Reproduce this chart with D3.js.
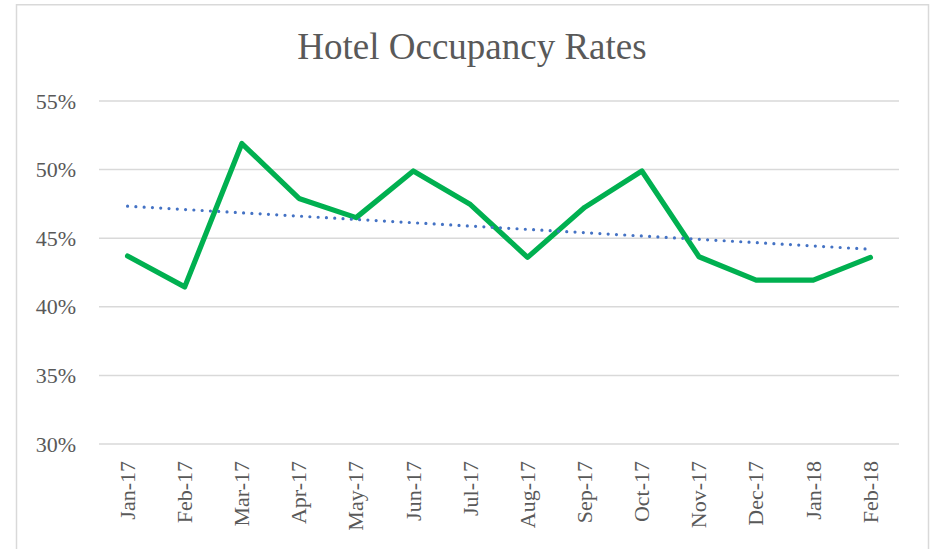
<!DOCTYPE html>
<html>
<head>
<meta charset="utf-8">
<script src="https://cdn.jsdelivr.net/npm/d3@7"></script>
<style>
  html, body { margin: 0; padding: 0; background: #fff; }
  svg { display: block; }
</style>
</head>
<body>
<svg id="chart" width="934" height="549"></svg>
<script>
// Monthly hotel occupancy, Jan 2017 – Feb 2018 (percent)
const months = ["Jan-17", "Feb-17", "Mar-17", "Apr-17", "May-17", "Jun-17", "Jul-17",
                "Aug-17", "Sep-17", "Oct-17", "Nov-17", "Dec-17", "Jan-18", "Feb-18"];
const occupancy = [43.7, 41.45, 51.9, 47.9, 46.5, 49.9, 47.45,
                   43.6, 47.25, 49.9, 43.65, 41.95, 41.95, 43.6];
const yTicks = [30, 35, 40, 45, 50, 55];
const chartTitle = "Hotel Occupancy Rates";

const svg = d3.select("#chart");
const plot = { left: 99, right: 899, top: 101, bottom: 444 };
const textColor = "#595959";
const fontFamily = "'Liberation Serif', 'Times New Roman', serif";

// Chart area frame
svg.append("rect")
  .attr("x", 16.5).attr("y", 4.75)
  .attr("width", 912).attr("height", 560)
  .attr("fill", "#fff")
  .attr("stroke", "#d9d9d9").attr("stroke-width", 1.5);

const x = d3.scaleBand().domain(months).range([plot.left, plot.right]);
const y = d3.scaleLinear().domain([30, 55]).range([plot.bottom, plot.top]);
const cx = m => x(m) + x.bandwidth() / 2;

// Title
svg.append("text")
  .attr("x", 472).attr("y", 59)
  .attr("text-anchor", "middle")
  .attr("font-family", fontFamily)
  .attr("font-size", 37)
  .attr("fill", textColor)
  .text(chartTitle);

// Horizontal gridlines
svg.append("g")
  .selectAll("line")
  .data(yTicks)
  .join("line")
  .attr("x1", plot.left).attr("x2", plot.right)
  .attr("y1", d => y(d)).attr("y2", d => y(d))
  .attr("stroke", "#d9d9d9").attr("stroke-width", 1.5);

// Y axis labels
const yAxis = d3.axisLeft(y).tickValues(yTicks).tickSize(0).tickPadding(0)
  .tickFormat(d => d + "%");
svg.append("g")
  .attr("transform", `translate(76,0)`)
  .call(yAxis)
  .call(g => g.select(".domain").remove())
  .selectAll("text")
  .attr("font-family", fontFamily)
  .attr("font-size", 22)
  .attr("fill", textColor);

// X axis labels (rotated)
const xAxis = d3.axisBottom(x).tickSize(0).tickPadding(0);
svg.append("g")
  .attr("transform", `translate(0,${plot.bottom})`)
  .call(xAxis)
  .call(g => g.select(".domain").remove())
  .selectAll("text")
  .attr("font-family", fontFamily)
  .attr("font-size", 22)
  .attr("fill", textColor)
  .attr("text-anchor", "end")
  .attr("transform", "translate(0,17) rotate(-90)")
  .attr("x", 0).attr("y", 0)
  .attr("dy", "0.33em");

// Occupancy line
const line = d3.line()
  .x((d, i) => cx(months[i]))
  .y(d => y(d));
svg.append("path")
  .datum(occupancy)
  .attr("d", line)
  .attr("fill", "none")
  .attr("stroke", "#00B050")
  .attr("stroke-width", 5.2)
  .attr("stroke-linejoin", "round")
  .attr("stroke-linecap", "round");

// Linear trendline (least squares over month index)
const n = occupancy.length;
const idx = d3.range(n);
const mx = d3.mean(idx), my = d3.mean(occupancy);
const slope = d3.sum(idx, i => (i - mx) * (occupancy[i] - my)) /
              d3.sum(idx, i => (i - mx) * (i - mx));
const intercept = my - slope * mx;
const trend = [0, n - 1].map(i => ({ i, v: intercept + slope * i }));
svg.append("path")
  .datum(trend)
  .attr("d", d3.line().x(d => cx(months[d.i])).y(d => y(d.v)))
  .attr("fill", "none")
  .attr("stroke", "#4472C4")
  .attr("stroke-width", 3.2)
  .attr("stroke-linecap", "round")
  .attr("stroke-dasharray", "0 8.3");
</script>
</body>
</html>
